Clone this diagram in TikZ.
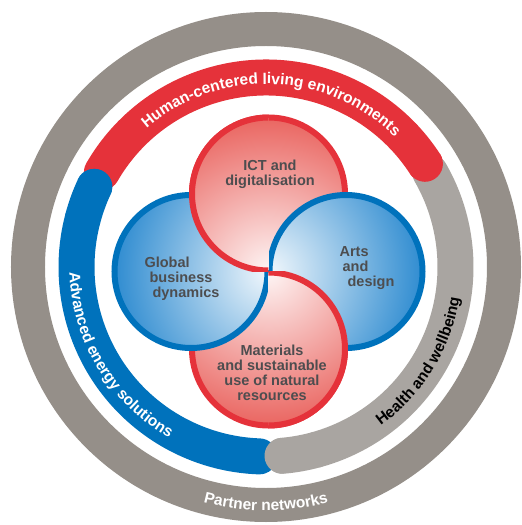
\documentclass[tikz,border=0pt]{standalone}
\usepackage{fontspec}
\setmainfont{Liberation Sans}
\usepackage{tikz}
\usetikzlibrary{calc}
\usetikzlibrary{decorations.text}

\definecolor{ringgray}{HTML}{958F89}
\definecolor{healthgray}{HTML}{A9A5A1}
\definecolor{ringred}{HTML}{E5323A}
\definecolor{ringblue}{HTML}{0072BC}
\definecolor{lobered}{HTML}{E9605B}
\definecolor{lobeblue}{HTML}{2888CF}
\definecolor{textgray}{HTML}{4D4D4F}

\newcommand{\bandfont}{\fontsize{15.5}{16}\selectfont\bfseries}
\newcommand{\lobefont}{\fontsize{14.5}{15}\selectfont\bfseries}
% one lobe: centre, shade colour, line colour
\newcommand{\lobe}[3]{%
    \begin{scope}
        \clip (#1) circle (76.5);
        \shade[inner color=#2!6, outer color=#2] (mid) circle (160);
    \end{scope}
    \draw[#3, line width=6pt] (#1) circle (76.5);
}

\begin{document}
\begin{tikzpicture}[x=1pt, y=1pt,
    band/.style={line width=36pt, line cap=round, preaction={draw=white, line width=50pt}},
    bandtext/.style 2 args={decorate, decoration={text along path, text align=center, text color=#1, text={|\bandfont|#2}}},
    lobetext/.style={text=textgray, font=\lobefont}]
            \useasboundingbox (-266, -258) rectangle (256, 267);
            \coordinate (hub) at (0, 0);
            \coordinate (mid) at (2.5, -4.5);
            \coordinate (ctop) at ($(mid) + (0, 77.5)$);
            \coordinate (cbot) at ($(mid) - (0, 77.5)$);
            \coordinate (cleft) at ($(mid) - (77.5, 0)$);
            \coordinate (cright) at ($(mid) + (77.5, 0)$);

            % outer ring
            \draw[ringgray, line width=34pt] (hub) circle (238);

            % three bands, each end laid again over the next one
            \foreach \col/\from/\to in {ringred/150/33, healthgray/30/-85, ringblue/268/155}
            {
                \draw[band, \col] (hub) ++(\from:189.5) arc[start angle=\from, end angle=\to, radius=189.5];
            }
            \foreach \col/\from/\to in {ringred/150/33, healthgray/30/-85, ringblue/268/155}
            {
                \draw[band, \col] (hub) ++({\to+10}:189.5) arc[start angle=\to+10, end angle=\to, radius=189.5];
            }

            % lobes
            \lobe{ctop}{lobered}{ringred}
            \lobe{cbot}{lobered}{ringred}
            \lobe{cleft}{lobeblue}{ringblue}
            \lobe{cright}{lobeblue}{ringblue}
            \begin{scope}
                \clip (mid) rectangle ++(-200, 200);
                \lobe{ctop}{lobered}{ringred}
            \end{scope}
            \begin{scope}
                \clip (mid) rectangle ++(200, -200);
                \lobe{cbot}{lobered}{ringred}
            \end{scope}

            % band labels
            \path[bandtext={white}{Human-centered living environments}] (hub) ++(138:183) arc[start angle=138, end angle=38, radius=183];
            \path[bandtext={white}{Advanced energy solutions}] (hub) ++(161:196.5) arc[start angle=161, end angle=261, radius=196.5];
            \path[bandtext={black}{Health and wellbeing}] (hub) ++(-81.6:196) arc[start angle=-81.6, end angle=18.4, radius=196];
            \path[bandtext={white}{Partner networks}] (hub) ++(-140:243.5) arc[start angle=-140, end angle=-40, radius=243.5];

            % lobe labels
            \node[lobetext, align=center] (ict) at (4, 93) {ICT and\\digitalisation};
            \node[lobetext, align=left] (global) at (-84, -12) {Global\\\hspace*{5pt}business\\\hspace*{8pt}dynamics};
            \node[lobetext, align=left] (arts) at (101, -1) {Arts\\\hspace*{3pt}and\\\hspace*{8pt}design};
            \node[lobetext, align=center] (materials) at (6, -106) {Materials\\and sustainable\\use of natural\\resources};
        \end{tikzpicture}
\end{document}
